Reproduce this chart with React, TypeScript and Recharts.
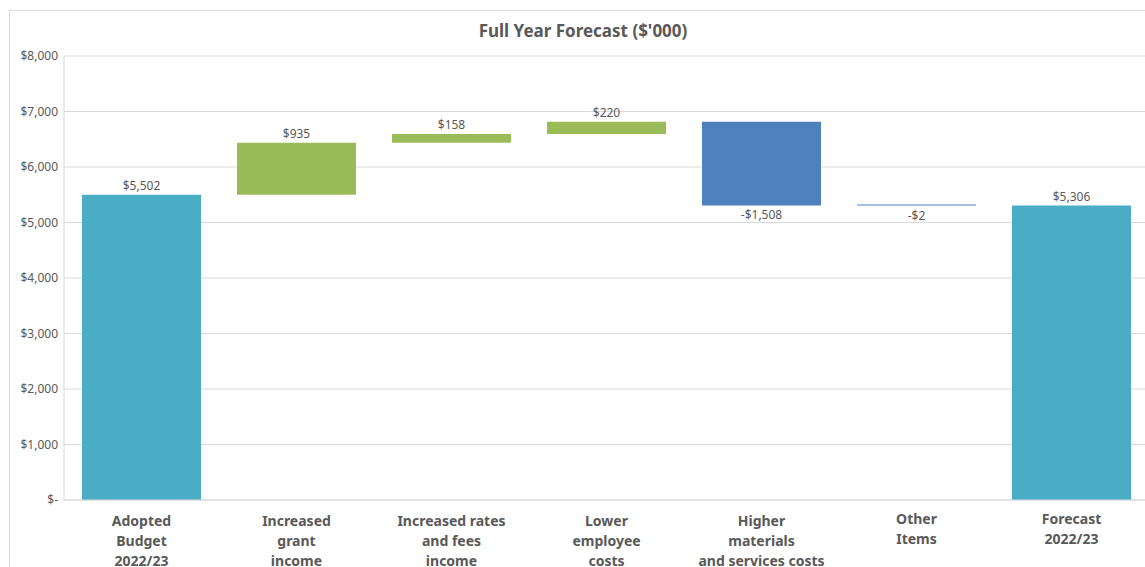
import React from 'react';
import {
  BarChart,
  Bar,
  XAxis,
  YAxis,
  CartesianGrid,
  Cell,
  LabelList,
} from 'recharts';

const categories = [
  'Adopted\nBudget\n2022/23',
  'Increased\ngrant\nincome',
  'Increased rates\nand fees\nincome',
  'Lower\nemployee\ncosts',
  'Higher\nmaterials\nand services costs',
  'Other\nItems',
  'Forecast\n2022/23',
];
// signed movements; first and last are totals
const amounts = [5502, 935, 158, 220, -1508, -2, 5306];
const isTotal = [true, false, false, false, false, false, true];
const valueLabels = ['$5,502', '$935', '$158', '$220', '-$1,508', '-$2', '$5,306'];
const yTicks = [0, 1000, 2000, 3000, 4000, 5000, 6000, 7000, 8000];

const TOTAL = '#4BACC6';
const UP = '#9BBB59';
const DOWN = '#4F81BD';
const TEXT = '#595959';
const FONT = '"Noto Sans", "Open Sans", sans-serif';

let running = 0;
const data = categories.map((name, i) => {
  const amt = amounts[i];
  let base = 0;
  if (isTotal[i]) {
    running = amt;
  } else {
    base = amt >= 0 ? running : running + amt;
    running += amt;
  }
  return {
    name,
    base,
    size: Math.abs(amt),
    label: valueLabels[i],
    neg: amt < 0,
    total: isTotal[i],
  };
});

const fmt = (v: number) => (v === 0 ? '$-' : '$' + v.toLocaleString('en-US'));

const CatTick = (props: any) => {
  const { x, y, payload } = props;
  const lines = String(payload.value).split('\n');
  const shift = lines.length === 2 ? -2 : 0;
  return (
    <text
      x={x}
      y={y + shift}
      textAnchor="middle"
      fill={TEXT}
      fontSize={14}
      fontWeight="bold"
      fontFamily={FONT}
    >
      {lines.map((l, i) => (
        <tspan key={i} x={x} dy={i === 0 ? 18 : 20}>
          {l}
        </tspan>
      ))}
    </text>
  );
};

const ValueLabel = (props: any) => {
  const { x, y, width, height, index } = props;
  const d = data[index];
  const ty = d.neg ? y + height + 14 : y - 5;
  return (
    <text
      x={x + width / 2}
      y={ty}
      textAnchor="middle"
      fill={TEXT}
      fontSize={12}
      fontFamily={FONT}
    >
      {d.label}
    </text>
  );
};

export default function App() {
  return (
    <div
      style={{
        position: 'absolute',
        left: 0,
        top: 0,
        width: 1145,
        height: 567,
        overflow: 'hidden',
        background: '#fff',
      }}
    >
      <div
        style={{
          position: 'absolute',
          left: 9,
          top: 10,
          width: 1150,
          height: 570,
          borderLeft: '1px solid #D9D9D9',
          borderTop: '1px solid #D9D9D9',
        }}
      />
      <div
        style={{
          position: 'absolute',
          left: 0,
          top: 19,
          width: 1166,
          textAlign: 'center',
          fontFamily: FONT,
          fontWeight: 'bold',
          fontSize: 17,
          color: TEXT,
        }}
      >
        Full Year Forecast ($'000)
      </div>
      <div style={{ position: 'absolute', left: 0, top: 0 }}>
        <BarChart
          width={1150}
          height={567}
          data={data}
          margin={{ top: 56, right: 1, left: 9, bottom: 7 }}
          barCategoryGap={18}
        >
          <CartesianGrid vertical={false} stroke="#D9D9D9" />
          <XAxis
            dataKey="name"
            interval={0}
            tickLine={false}
            axisLine={{ stroke: '#D9D9D9' }}
            tick={<CatTick />}
            height={60}
          />
          <YAxis
            width={55}
            domain={[0, 8000]}
            ticks={yTicks}
            tickFormatter={fmt}
            tickLine={false}
            axisLine={{ stroke: '#D9D9D9' }}
            tickMargin={0}
            tick={{ fill: TEXT, fontSize: 12, fontFamily: FONT }}
          />
          <Bar dataKey="base" stackId="w" fill="transparent" isAnimationActive={false} />
          <Bar dataKey="size" stackId="w" isAnimationActive={false} minPointSize={1}>
            {data.map((d, i) => (
              <Cell key={`c-${i}`} fill={d.total ? TOTAL : d.neg ? DOWN : UP} />
            ))}
            <LabelList dataKey="label" content={<ValueLabel />} />
          </Bar>
        </BarChart>
      </div>
    </div>
  );
}
